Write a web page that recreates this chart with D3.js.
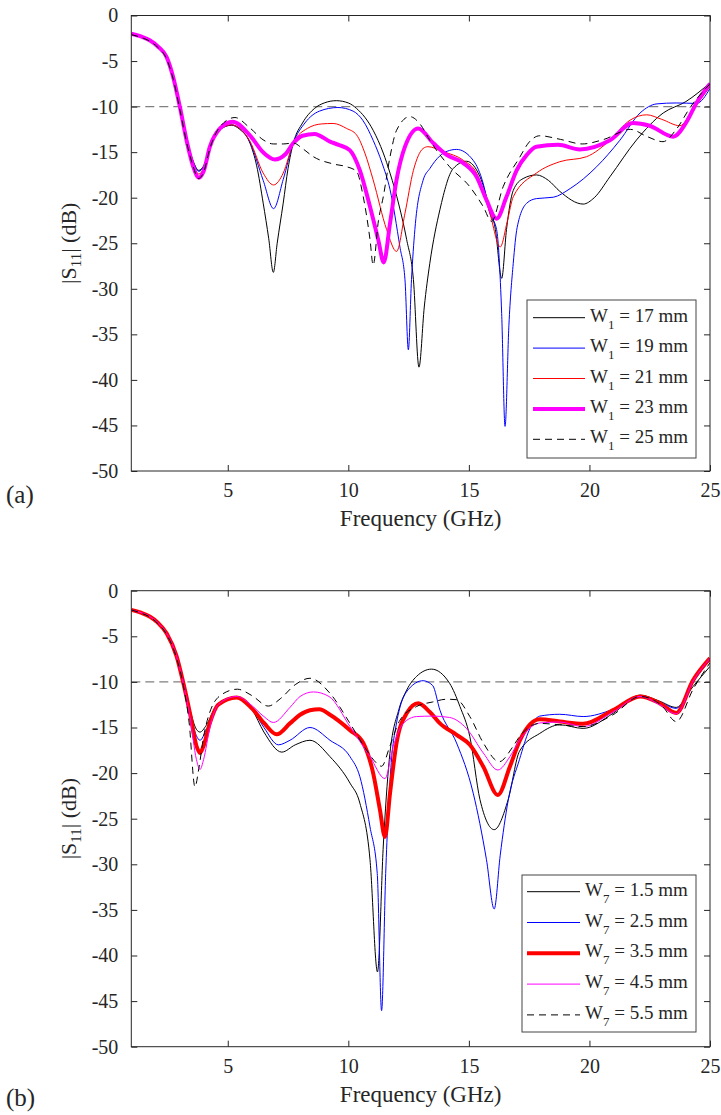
<!DOCTYPE html>
<html><head><meta charset="utf-8">
<script src="https://cdn.jsdelivr.net/npm/d3@7"></script>
<style>
body{margin:0;background:#fff}
svg{display:block}
text{font-family:"Liberation Serif","Times New Roman",serif;fill:#262626}
</style>
</head><body>
<svg id="c" width="721" height="1115"></svg>
<script>
// ---------- tick labels ----------
const xTicks = [5, 10, 15, 20, 25];
const yTicks = [0, -5, -10, -15, -20, -25, -30, -35, -40, -45, -50];
const refLevel = -10;

// ---------- panel (a): W1 sweep, [GHz, dB] ----------
const w1Labels = ["17", "19", "21", "23", "25"];
const a_w17 = [[1,-2],[1.4,-2.3],[1.78,-2.75],[2.1,-3.4],[2.47,-4.6],[2.74,-6.7],[3.02,-10],[3.3,-13.5],[3.57,-16],[3.8,-17],[4.0,-16.5],[4.26,-14.5],[4.68,-12.5],[5.16,-12.05],[5.5,-12.5],[5.92,-14.0],[6.2,-16.5],[6.47,-20.6],[6.7,-24.5],[6.89,-28.2],[7.05,-25],[7.3,-20.6],[7.5,-16.8],[7.72,-14.0],[8.1,-11.8],[8.6,-10.2],[9.0,-9.6],[9.5,-9.35],[10.0,-9.6],[10.34,-10.2],[11.03,-12.6],[11.45,-15.1],[11.73,-17.3],[12.1,-20.8],[12.42,-24.6],[12.7,-29],[12.93,-38.6],[13.15,-32],[13.38,-27.2],[13.8,-21.3],[14.35,-16.8],[14.9,-16.0],[15.46,-17.7],[15.8,-20.5],[16.1,-23.5],[16.36,-28.85],[16.56,-23.5],[16.84,-19.2],[17.25,-17.9],[17.8,-17.5],[18.3,-18.1],[18.77,-19.3],[19.74,-20.7],[20.2,-20.0],[20.85,-17.7],[21.95,-13.67],[23.06,-10.7],[24.0,-9.45],[25,-7.4]];
const a_w19 = [[1,-2],[1.4,-2.3],[1.78,-2.75],[2.1,-3.4],[2.47,-4.6],[2.74,-6.7],[3.02,-10],[3.3,-13.6],[3.57,-16.1],[3.8,-17.1],[4.0,-16.6],[4.26,-14.5],[4.68,-12.5],[5.16,-12.0],[5.5,-12.4],[5.92,-13.9],[6.47,-18.1],[6.9,-21.2],[7.3,-18.0],[7.72,-14.0],[8.2,-11.8],[8.8,-10.5],[9.57,-10.1],[10.2,-10.5],[10.6,-11.5],[11.03,-13.7],[11.4,-16.2],[11.73,-19.1],[12.14,-25.4],[12.35,-29],[12.49,-36.7],[12.62,-29],[12.76,-23.5],[13.1,-18.1],[13.38,-16.8],[13.8,-15.4],[14.1,-14.9],[14.49,-14.7],[15.18,-15.9],[15.6,-18.5],[15.87,-21.7],[16.15,-23.5],[16.36,-32.7],[16.5,-45.1],[16.66,-34],[16.84,-27.2],[17.0,-23.3],[17.4,-20.6],[17.8,-20.1],[18.5,-19.95],[19.2,-19.0],[20.3,-16.6],[21.26,-13.7],[22.1,-10.7],[22.8,-9.7],[23.6,-9.6],[24.44,-9.65],[25,-8.0]];
const a_w21 = [[1,-2],[1.4,-2.3],[1.78,-2.75],[2.1,-3.4],[2.47,-4.6],[2.74,-6.7],[3.02,-10],[3.3,-13.7],[3.57,-16.4],[3.8,-17.4],[4.0,-16.8],[4.26,-14.6],[4.68,-12.5],[5.16,-12.0],[5.5,-12.4],[5.92,-13.8],[6.47,-17.3],[6.9,-18.6],[7.3,-17.3],[7.72,-14.0],[8.3,-12.4],[8.9,-11.9],[9.37,-11.85],[9.93,-12.4],[10.34,-13.1],[10.7,-15.2],[11.03,-18.05],[11.59,-23.5],[12.0,-25.9],[12.35,-21.7],[12.7,-17],[13.1,-14.6],[13.3,-14.4],[13.94,-14.95],[14.77,-15.9],[15.32,-17.3],[15.87,-21.7],[16.3,-25.4],[16.6,-22.5],[16.84,-19.9],[17.8,-17.3],[18.77,-16.05],[19.88,-15.5],[20.85,-13.7],[21.68,-11.5],[22.37,-10.9],[23.0,-11.4],[23.75,-12.1],[24.3,-10.3],[25,-7.8]];
const a_w23 = [[1,-2],[1.4,-2.3],[1.78,-2.75],[2.1,-3.4],[2.47,-4.6],[2.74,-6.8],[3.02,-10.1],[3.3,-13.8],[3.57,-16.6],[3.8,-17.8],[4.0,-17.1],[4.26,-14.4],[4.68,-12.4],[5.2,-11.65],[5.9,-13.1],[6.5,-15.1],[6.95,-15.8],[7.4,-15.2],[7.72,-14.0],[8.1,-13.2],[8.6,-13.0],[9.24,-13.85],[9.6,-14.2],[10.07,-14.8],[10.48,-17],[10.9,-21],[11.24,-24.6],[11.47,-27.1],[11.73,-22.8],[12.0,-18.05],[12.35,-14.4],[12.9,-12.4],[13.52,-14.0],[14.08,-15.3],[14.77,-16.2],[15.32,-17.7],[15.73,-20.25],[16.15,-22.3],[16.56,-19.9],[16.98,-17.0],[17.4,-15.3],[17.8,-14.4],[18.7,-14.2],[19.6,-14.7],[20.85,-13.7],[21.8,-11.8],[22.5,-12.1],[23.47,-13.3],[24.0,-11.8],[24.44,-9.6],[25,-7.5]];
const a_w25 = [[1,-2.1],[1.4,-2.4],[1.78,-2.85],[2.1,-3.5],[2.47,-4.8],[2.74,-7.0],[3.02,-10.4],[3.3,-14],[3.57,-16.6],[3.78,-17.9],[4.0,-17.2],[4.26,-14.6],[4.68,-12.2],[5.3,-11.2],[5.9,-12.3],[6.5,-13.7],[6.89,-14.1],[7.3,-14.1],[7.72,-14.0],[8.1,-14.6],[8.55,-15.5],[9.38,-16.3],[9.93,-16.6],[10.34,-17.1],[10.62,-19.9],[10.9,-24.6],[11.03,-27.4],[11.25,-22.5],[11.45,-19.9],[11.73,-15.5],[12.0,-12.6],[12.55,-11.1],[13.0,-12],[13.38,-13.7],[14.2,-16.6],[15.04,-18.8],[15.6,-21],[15.94,-22.6],[16.42,-18.8],[17.1,-15.6],[17.5,-13.9],[17.94,-13.2],[18.8,-13.6],[19.7,-14.1],[20.6,-13.6],[21.7,-12.5],[22.4,-13.3],[23.05,-13.85],[23.6,-12.5],[24.2,-10],[25,-7.5]];

// ---------- panel (b): W7 sweep, [GHz, dB] ----------
const w7Labels = ["1.5", "2.5", "3.5", "4.5", "5.5"];
const b_w15 = [[1,-2.1],[1.4,-2.4],[1.78,-2.85],[2.1,-3.5],[2.47,-4.7],[2.88,-7.2],[3.16,-10.0],[3.43,-13.0],[3.7,-15.2],[3.85,-15.5],[4.1,-14.8],[4.5,-12.8],[5.37,-11.7],[6.0,-13.0],[6.5,-15.5],[7.24,-17.7],[7.8,-16.9],[8.41,-16.4],[9.24,-18.2],[10.07,-21.1],[10.48,-23.3],[10.9,-29.5],[11.21,-41.8],[11.45,-28],[11.7,-18.5],[12.1,-13],[12.42,-10.9],[12.83,-9.4],[13.45,-8.6],[14.2,-10.15],[14.63,-12.7],[15.04,-16],[15.46,-22.9],[16.05,-26.2],[16.63,-22.9],[17.1,-17.6],[17.94,-15.65],[18.77,-14.7],[19.74,-15.1],[20.98,-13.45],[22.1,-11.45],[22.9,-12.1],[23.6,-12.8],[24.3,-10.5],[25,-8.3]];
const b_w25 = [[1,-2.1],[1.4,-2.4],[1.78,-2.85],[2.1,-3.5],[2.47,-4.7],[2.88,-7.2],[3.16,-10.1],[3.43,-13.2],[3.7,-15.9],[3.85,-16.4],[4.1,-15.3],[4.5,-12.9],[5.37,-11.7],[6.0,-12.9],[6.5,-15.0],[7.1,-16.9],[7.58,-16.4],[8.41,-15.0],[9.24,-16.4],[10.07,-18.2],[10.48,-20.4],[10.9,-25.9],[11.2,-31],[11.38,-46.05],[11.55,-31],[11.75,-20],[12.0,-14.5],[12.5,-10.8],[13.1,-9.87],[13.5,-10.4],[13.8,-13.1],[14.49,-16.7],[15.18,-22.2],[15.73,-29.5],[16.05,-34.9],[16.3,-29],[16.63,-23],[17.1,-18.5],[17.5,-15.3],[17.94,-13.75],[18.77,-13.55],[19.74,-13.8],[20.98,-13.0],[22.1,-11.6],[22.9,-12.2],[23.6,-12.9],[24.3,-10.0],[25,-7.6]];
const b_w35 = [[1,-2.1],[1.4,-2.4],[1.78,-2.85],[2.1,-3.5],[2.47,-4.7],[2.88,-7.2],[3.16,-10.15],[3.43,-13.4],[3.7,-17.0],[3.85,-17.8],[4.0,-17.0],[4.26,-14.5],[4.6,-12.5],[5.37,-11.7],[6.0,-12.9],[6.5,-14.5],[7.03,-15.75],[7.58,-14.55],[8.0,-13.6],[8.41,-13.1],[8.8,-13.0],[9.24,-13.6],[10.07,-15.3],[10.62,-16.7],[11.03,-20],[11.31,-24],[11.52,-27.0],[11.73,-22.2],[12.0,-16.7],[12.42,-13.45],[12.9,-12.35],[13.38,-13.3],[13.8,-14.55],[14.49,-15.8],[15.04,-16.9],[15.6,-19.3],[16.2,-22.4],[16.7,-19.3],[17.1,-16.5],[17.94,-14.1],[18.77,-14.35],[19.74,-14.6],[20.98,-13.1],[22.1,-11.6],[22.92,-12.35],[23.6,-13.4],[24.3,-9.8],[25,-7.4]];
const b_w45 = [[1,-2.1],[1.4,-2.4],[1.78,-2.85],[2.1,-3.5],[2.47,-4.7],[2.88,-7.2],[3.16,-10.2],[3.43,-13.8],[3.7,-18.5],[3.85,-19.6],[4.0,-18.5],[4.26,-15],[4.6,-12.5],[5.37,-11.6],[6.0,-12.6],[6.5,-13.8],[6.89,-14.45],[7.58,-12.8],[8.0,-11.6],[8.55,-11.1],[9.2,-11.6],[10.07,-14.9],[10.9,-18.2],[11.52,-20.6],[11.86,-17.1],[12.28,-14.55],[12.83,-13.8],[13.5,-13.75],[14.2,-13.9],[14.9,-15.1],[15.6,-17.8],[16.2,-19.66],[16.7,-18.2],[17.1,-16.4],[17.94,-14.5],[18.77,-14.4],[19.74,-14.9],[20.98,-13.3],[22.1,-11.6],[22.92,-12.5],[23.6,-13.5],[24.3,-9.9],[25,-7.4]];
const b_w55 = [[1,-2.1],[1.4,-2.45],[1.78,-2.9],[2.1,-3.6],[2.47,-4.8],[2.88,-7.4],[3.16,-10.4],[3.4,-14.5],[3.64,-21.5],[3.8,-19.5],[4.0,-16],[4.3,-13],[4.8,-11.3],[5.4,-10.8],[6.0,-11.5],[6.68,-12.65],[7.2,-11.8],[7.8,-10.3],[8.41,-9.6],[9.24,-11.25],[10.07,-14.55],[10.76,-17.5],[11.17,-18.9],[11.38,-19.25],[11.73,-17],[12.14,-14.2],[12.83,-12.7],[13.5,-12.2],[14.08,-11.9],[14.49,-11.95],[15.04,-13.8],[15.6,-16.7],[16.26,-18.75],[16.8,-17.2],[17.1,-16.0],[17.94,-14.55],[18.77,-14.7],[19.74,-14.9],[20.98,-13.6],[22.1,-11.6],[23.0,-12.6],[23.6,-14.35],[24.3,-10.8],[25,-7.9]];

const styles = [
  {color:"#000000", width:1, dash:null},
  {color:"#0000ff", width:1, dash:null},
  {color:"#ff0000", width:1, dash:null},
  {color:"#ff00ff", width:4, dash:null},
  {color:"#000000", width:1, dash:"7,5"}
];
const stylesB = [
  {color:"#000000", width:1, dash:null},
  {color:"#0000ff", width:1, dash:null},
  {color:"#ff0000", width:4, dash:null},
  {color:"#ff00ff", width:1, dash:null},
  {color:"#000000", width:1, dash:"7,5"}
];

const panels = [
  {top:15.5, bottom:471, series:[a_w17,a_w19,a_w21,a_w23,a_w25], labels:w1Labels, sub:"1",
   styles:styles, legend:{x:527, y:300, w:169, h:158, lx1:533, lx2:585, tx:590, y0:317.7, dy:30.4}, tag:"(a)", tagY:503},
  {top:590.7, bottom:1046.7, series:[b_w15,b_w25,b_w35,b_w45,b_w55], labels:w7Labels, sub:"7",
   styles:stylesB, legend:{x:522, y:875, w:174, h:157, lx1:527, lx2:580, tx:585, y0:891.7, dy:30.8}, tag:"(b)", tagY:1106}
];

const svg = d3.select("#c");
const L = 131.3, R = 710;
const x = d3.scaleLinear().domain([1, 25]).range([L, R]);
const axisColor = "#262626";

panels.forEach((p, pi) => {
  const y = d3.scaleLinear().domain([-50, 0]).range([p.bottom, p.top]);
  const g = svg.append("g");
  const clipId = "clip" + pi;
  svg.append("defs").append("clipPath").attr("id", clipId)
    .append("rect").attr("x", L).attr("y", p.top).attr("width", R - L).attr("height", p.bottom - p.top);

  // -10 dB reference line
  g.append("line").attr("x1", x(1)).attr("x2", x(25)).attr("y1", y(refLevel)).attr("y2", y(refLevel))
    .attr("stroke", "#808080").attr("stroke-width", 1.3).attr("stroke-dasharray", "9,5");

  const line = d3.line().x(d => x(d[0])).y(d => y(d[1])).curve(d3.curveMonotoneX);
  const plot = g.append("g").attr("clip-path", `url(#${clipId})`);
  p.series.forEach((s, i) => {
    const st = p.styles[i];
    plot.append("path").datum(s).attr("d", line).attr("fill", "none")
      .attr("stroke", st.color).attr("stroke-width", st.width)
      .attr("stroke-linejoin", "round")
      .attr("stroke-dasharray", st.dash);
  });

  // axes
  const xb = d3.axisBottom(x).tickValues(xTicks).tickSize(-6).tickPadding(12).tickFormat(d3.format("d"));
  const xt = d3.axisTop(x).tickValues(xTicks).tickSize(-6).tickFormat("");
  const yl = d3.axisLeft(y).tickValues(yTicks).tickSize(-6).tickPadding(13).tickFormat(d => d === 0 ? "0" : "-" + Math.abs(d));
  const yr = d3.axisRight(y).tickValues(yTicks).tickSize(-6).tickFormat("");
  const style = sel => {
    sel.select(".domain").remove();
    sel.selectAll("line").attr("stroke", axisColor).attr("stroke-width", 1);
    sel.selectAll("text").attr("font-family", '"Liberation Serif","Times New Roman",serif')
      .attr("font-size", 20).attr("fill", axisColor);
  };
  g.append("g").attr("transform", `translate(0,${p.bottom})`).call(xb).call(style);
  g.append("g").attr("transform", `translate(0,${p.top})`).call(xt).call(style);
  g.append("g").attr("transform", `translate(${L},0)`).call(yl).call(style);
  g.append("g").attr("transform", `translate(${R},0)`).call(yr).call(style);
  g.append("rect").attr("x", L).attr("y", p.top).attr("width", R - L).attr("height", p.bottom - p.top)
    .attr("fill", "none").attr("stroke", axisColor).attr("stroke-width", 1);

  // axis labels
  g.append("text").attr("x", (L + R) / 2).attr("y", p.bottom + 55).attr("text-anchor", "middle")
    .attr("font-size", 23).text("Frequency (GHz)");
  const yt = g.append("text").attr("transform", `translate(76,${(p.top + p.bottom) / 2}) rotate(-90)`)
    .attr("text-anchor", "middle").attr("font-size", 22);
  yt.append("tspan").text("|S");
  yt.append("tspan").attr("font-size", 15).attr("dy", 5).text("11");
  yt.append("tspan").attr("dy", -5).text("| (dB)");

  g.append("text").attr("x", 6).attr("y", p.tagY).attr("font-size", 25).text(p.tag);

  // legend
  const lg = p.legend;
  g.append("rect").attr("x", lg.x).attr("y", lg.y).attr("width", lg.w).attr("height", lg.h)
    .attr("fill", "#fff").attr("stroke", "#444").attr("stroke-width", 1);
  p.labels.forEach((lab, i) => {
    const st = p.styles[i];
    const yy = lg.y0 + i * lg.dy;
    g.append("line").attr("x1", lg.lx1).attr("x2", lg.lx2).attr("y1", yy).attr("y2", yy)
      .attr("stroke", st.color).attr("stroke-width", st.width).attr("stroke-dasharray", st.dash);
    const t = g.append("text").attr("x", lg.tx).attr("y", yy + 4).attr("font-size", 19);
    t.append("tspan").text("W");
    t.append("tspan").attr("font-size", 13).attr("dy", 7).text(p.sub);
    t.append("tspan").attr("dy", -7).text(" = " + lab + " mm");
  });
});
</script>
</body></html>
